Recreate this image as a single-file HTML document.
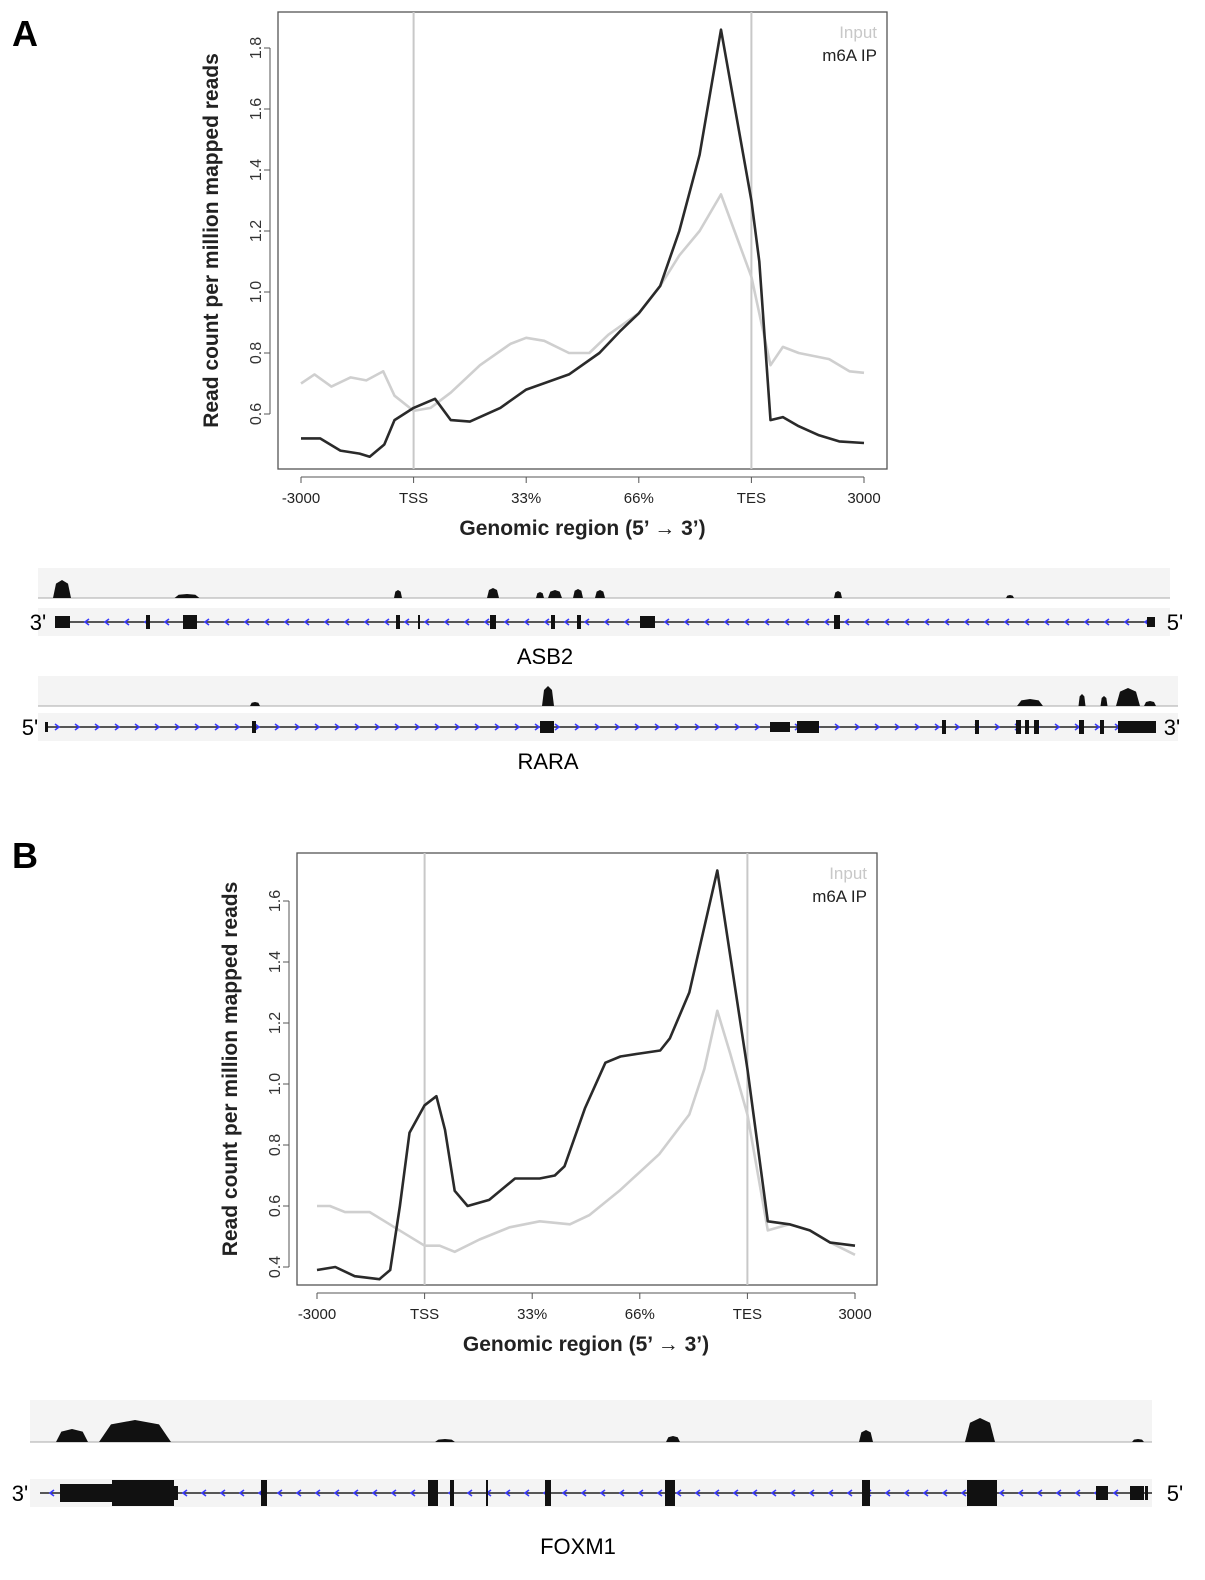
<!DOCTYPE html>
<html><head><meta charset="utf-8"><style>
body{margin:0;background:#fff;font-family:"Liberation Sans",Arial,sans-serif}
svg{display:block}
</style></head><body>
<svg id="fig" width="1205" height="1580" viewBox="0 0 1205 1580" font-family="Liberation Sans, Arial, sans-serif">
<text x="12" y="46" font-size="36" font-weight="bold">A</text>
<text x="12" y="868" font-size="36" font-weight="bold">B</text>
<g id="chartA"></g>
<g id="chartB"></g>
<g id="tracks"></g>
<text x="545" y="664" font-size="22" text-anchor="middle">ASB2</text>
<text x="548" y="769" font-size="22" text-anchor="middle">RARA</text>
<text x="578" y="1554" font-size="22" text-anchor="middle">FOXM1</text>
</svg>
<script>
const NS="http://www.w3.org/2000/svg";
function mk(p,tag,a){const e=document.createElementNS(NS,tag);for(const k in a)e.setAttribute(k,a[k]);p.appendChild(e);return e;}
const xTickLabels=["-3000","TSS","33%","66%","TES","3000"];
// Panel A data (x in units: 0=-3000,1=TSS,4=TES,5=3000)
const aIpX=[0,0.17,0.35,0.52,0.61,0.74,0.83,1.0,1.19,1.23,1.33,1.5,1.77,2.0,2.38,2.65,2.83,3.0,3.19,3.36,3.54,3.73,4.0,4.07,4.17,4.28,4.42,4.6,4.78,5.0];
const aIpY=[0.52,0.52,0.48,0.47,0.46,0.5,0.58,0.62,0.65,0.63,0.58,0.575,0.62,0.68,0.73,0.8,0.87,0.93,1.02,1.2,1.45,1.86,1.3,1.1,0.58,0.59,0.56,0.53,0.51,0.505];
const aInX=[0,0.12,0.27,0.44,0.58,0.73,0.83,1.0,1.15,1.33,1.59,1.86,2.0,2.16,2.38,2.56,2.73,3.0,3.19,3.36,3.54,3.73,3.85,4.0,4.17,4.28,4.42,4.69,4.87,5.0];
const aInY=[0.70,0.73,0.69,0.72,0.71,0.74,0.66,0.61,0.62,0.67,0.76,0.83,0.85,0.84,0.80,0.80,0.86,0.93,1.02,1.12,1.20,1.32,1.2,1.05,0.76,0.82,0.80,0.78,0.74,0.735];
const aYTicks=[0.6,0.8,1.0,1.2,1.4,1.6,1.8];
// Panel B data
const bIpX=[0,0.17,0.35,0.58,0.68,0.77,0.86,1.0,1.11,1.19,1.28,1.4,1.6,1.84,2.07,2.21,2.3,2.49,2.68,2.82,3.0,3.19,3.28,3.46,3.72,4.0,4.19,4.39,4.58,4.77,5.0];
const bIpY=[0.39,0.40,0.37,0.36,0.39,0.6,0.84,0.93,0.96,0.85,0.65,0.60,0.62,0.69,0.69,0.70,0.73,0.92,1.07,1.09,1.10,1.11,1.15,1.3,1.70,1.05,0.55,0.54,0.52,0.48,0.47];
const bInX=[0,0.12,0.26,0.49,0.72,1.0,1.14,1.28,1.51,1.79,2.07,2.35,2.53,2.81,3.18,3.46,3.6,3.72,3.84,4.0,4.19,4.39,4.58,4.77,5.0];
const bInY=[0.60,0.60,0.58,0.58,0.53,0.47,0.47,0.45,0.49,0.53,0.55,0.54,0.57,0.65,0.77,0.90,1.05,1.24,1.1,0.9,0.52,0.54,0.52,0.48,0.44];
const bYTicks=[0.4,0.6,0.8,1.0,1.2,1.4,1.6];

function chart(g,cfg){
  const sx=u=>cfg.x0+u*cfg.ux, sy=v=>cfg.yRef-(v-cfg.vRef)*cfg.uy;
  const box=mk(g,'rect',{x:cfg.bx,y:cfg.by,width:cfg.bw,height:cfg.bh,fill:'none',stroke:'#555','stroke-width':1.3});
  
  [1,4].forEach(u=>{const l=mk(g,'line',{x1:sx(u),x2:sx(u),y1:cfg.by,y2:cfg.by+cfg.bh,stroke:'#c8c8c8','stroke-width':2});
    });
  const axY=cfg.by+cfg.bh+8;
  const xa=mk(g,'line',{x1:sx(0),x2:sx(5),y1:axY,y2:axY,stroke:'#555'});
  
  xTickLabels.forEach((t,i)=>{mk(g,'line',{x1:sx(i),x2:sx(i),y1:axY,y2:axY+6,stroke:'#555'});
    const tx=mk(g,'text',{x:sx(i),y:axY+26,'font-size':15,'text-anchor':'middle',fill:'#222'});tx.textContent=t;
    });
  const axX=cfg.bx-8;
  const ya=mk(g,'line',{x1:axX,x2:axX,y1:sy(cfg.yt[0]),y2:sy(cfg.yt[cfg.yt.length-1]),stroke:'#555'});
  
  cfg.yt.forEach(v=>{mk(g,'line',{x1:axX-6,x2:axX,y1:sy(v),y2:sy(v),stroke:'#555'});
    const lx=axX-9;
    const tx=mk(g,'text',{x:lx,y:sy(v),'font-size':16,'text-anchor':'middle',fill:'#333',transform:`rotate(-90 ${lx} ${sy(v)})`});
    tx.textContent=v.toFixed(1);
    });
  const line=(xs,ys,col,name)=>{const p=mk(g,'path',{d:xs.map((u,i)=>(i?'L':'M')+sx(u).toFixed(1)+','+sy(ys[i]).toFixed(1)).join(''),fill:'none',stroke:col,'stroke-width':2.6,'stroke-linejoin':'round'});
    };
  line(cfg.inX,cfg.inY,'#cfcfcf','input-line');
  line(cfg.ipX,cfg.ipY,'#2a2a2a','m6a-ip-line');
  const l1=mk(g,'text',{x:cfg.bx+cfg.bw-10,y:cfg.by+26,'font-size':17,'text-anchor':'end',fill:'#c8c8c8'});l1.textContent='Input';
  
  const l2=mk(g,'text',{x:cfg.bx+cfg.bw-10,y:cfg.by+49,'font-size':17,'text-anchor':'end',fill:'#222'});l2.textContent='m6A IP';
  
  const xt=mk(g,'text',{x:sx(2.5),y:axY+58,'font-size':21,'font-weight':'bold','text-anchor':'middle',fill:'#222'});xt.textContent='Genomic region (5\u2019 \u2192 3\u2019)';
  
  const ym=cfg.by+cfg.bh/2,yx=cfg.bx-60;
  const yt=mk(g,'text',{x:yx,y:ym,'font-size':21,'font-weight':'bold','text-anchor':'middle',fill:'#222',transform:`rotate(-90 ${yx} ${ym})`});
  yt.textContent='Read count per million mapped reads';
  
}
chart(document.getElementById('chartA'),{bx:278,by:12,bw:609,bh:457,x0:301,ux:112.6,yRef:414,vRef:0.6,uy:305,yt:aYTicks,ipX:aIpX,ipY:aIpY,inX:aInX,inY:aInY});
chart(document.getElementById('chartB'),{bx:297,by:853,bw:580,bh:432,x0:317,ux:107.6,yRef:1267,vRef:0.4,uy:305,yt:bYTicks,ipX:bIpX,ipY:bIpY,inX:bInX,inY:bInY});

// gene tracks
const T=document.getElementById('tracks');
function track(cfg){
  const bg=mk(T,'rect',{x:cfg.x1,y:cfg.cy,width:cfg.x2-cfg.x1,height:cfg.ch,fill:'#f4f4f4'});
  
  mk(T,'line',{x1:cfg.x1,x2:cfg.x2,y1:cfg.cy+cfg.ch,y2:cfg.cy+cfg.ch,stroke:'#aaa'});
  cfg.peaks.forEach(p=>{const b=cfg.cy+cfg.ch,w=p[1],h=p[2];
    const pk=mk(T,'path',{d:`M${p[0]-w/2},${b} L${p[0]-w/3},${b-h*0.8} L${p[0]},${b-h} L${p[0]+w/3},${b-h*0.8} L${p[0]+w/2},${b} Z`,fill:'#111'});
    });
  const gb=mk(T,'rect',{x:cfg.x1,y:cfg.gy-14,width:cfg.x2-cfg.x1,height:28,fill:'#f4f4f4'});
  
  mk(T,'line',{x1:cfg.gx1,x2:cfg.gx2,y1:cfg.gy,y2:cfg.gy,stroke:'#222','stroke-width':1.5});
  for(let x=cfg.gx1+12;x<cfg.gx2;x+=cfg.arrowStep){mk(T,'path',{d:cfg.dir<0?`M${x+2},${cfg.gy-3}L${x-2},${cfg.gy}L${x+2},${cfg.gy+3}`:`M${x-2},${cfg.gy-3}L${x+2},${cfg.gy}L${x-2},${cfg.gy+3}`,fill:'none',stroke:'#3a3aff','stroke-width':1.6});}
  cfg.exons.forEach(e=>{const r=mk(T,'rect',{x:e[0],y:cfg.gy-e[2]/2,width:e[1],height:e[2],fill:'#111'});
    });
  const l=mk(T,'text',{x:cfg.lx,y:cfg.gy+8,'font-size':22,'text-anchor':'middle'});l.textContent=cfg.ll;
  
  const r=mk(T,'text',{x:cfg.rx,y:cfg.gy+8,'font-size':22,'text-anchor':'middle'});r.textContent=cfg.rl;
  
}
track({x1:38,x2:1170,cy:568,ch:30,gy:622,gx1:55,gx2:1155,dir:-1,arrowStep:20,lx:38,rx:1175,ll:"3'",rl:"5'",
  peaks:[[62,18,18],[187,25,4],[398,8,8],[493,12,10],[540,8,6],[555,14,8],[578,10,9],[600,10,8],[838,8,7],[1010,8,3]],
  exons:[[55,15,12],[146,4,14],[183,14,14],[396,4,14],[418,2,14],[490,6,14],[551,4,14],[577,4,14],[640,15,12],[834,6,14],[1147,8,10]]});
track({x1:38,x2:1178,cy:676,ch:30,gy:727,gx1:45,gx2:1156,dir:1,arrowStep:20,lx:30,rx:1172,ll:"5'",rl:"3'",
  peaks:[[255,10,4],[548,12,20],[1030,26,7],[1082,7,12],[1104,7,10],[1128,24,18],[1150,12,5]],
  exons:[[45,3,10],[252,4,12],[540,14,12],[770,20,10],[797,22,12],[942,4,14],[975,4,14],[1016,5,14],[1025,4,14],[1034,5,14],[1079,5,14],[1100,4,14],[1118,38,12]]});
track({x1:30,x2:1152,cy:1400,ch:42,gy:1493,gx1:40,gx2:1152,dir:-1,arrowStep:19,lx:20,rx:1175,ll:"3'",rl:"5'",
  peaks:[[72,32,13],[135,72,22],[445,20,3],[673,14,6],[866,14,12],[980,30,24],[1138,12,3]],
  exons:[[60,52,18],[112,62,26],[174,4,14],[261,6,26],[428,10,26],[450,4,26],[486,2,26],[545,6,26],[665,10,26],[862,8,26],[967,30,26],[1096,12,14],[1130,14,14],[1145,3,14]]});
</script>
</body></html>
